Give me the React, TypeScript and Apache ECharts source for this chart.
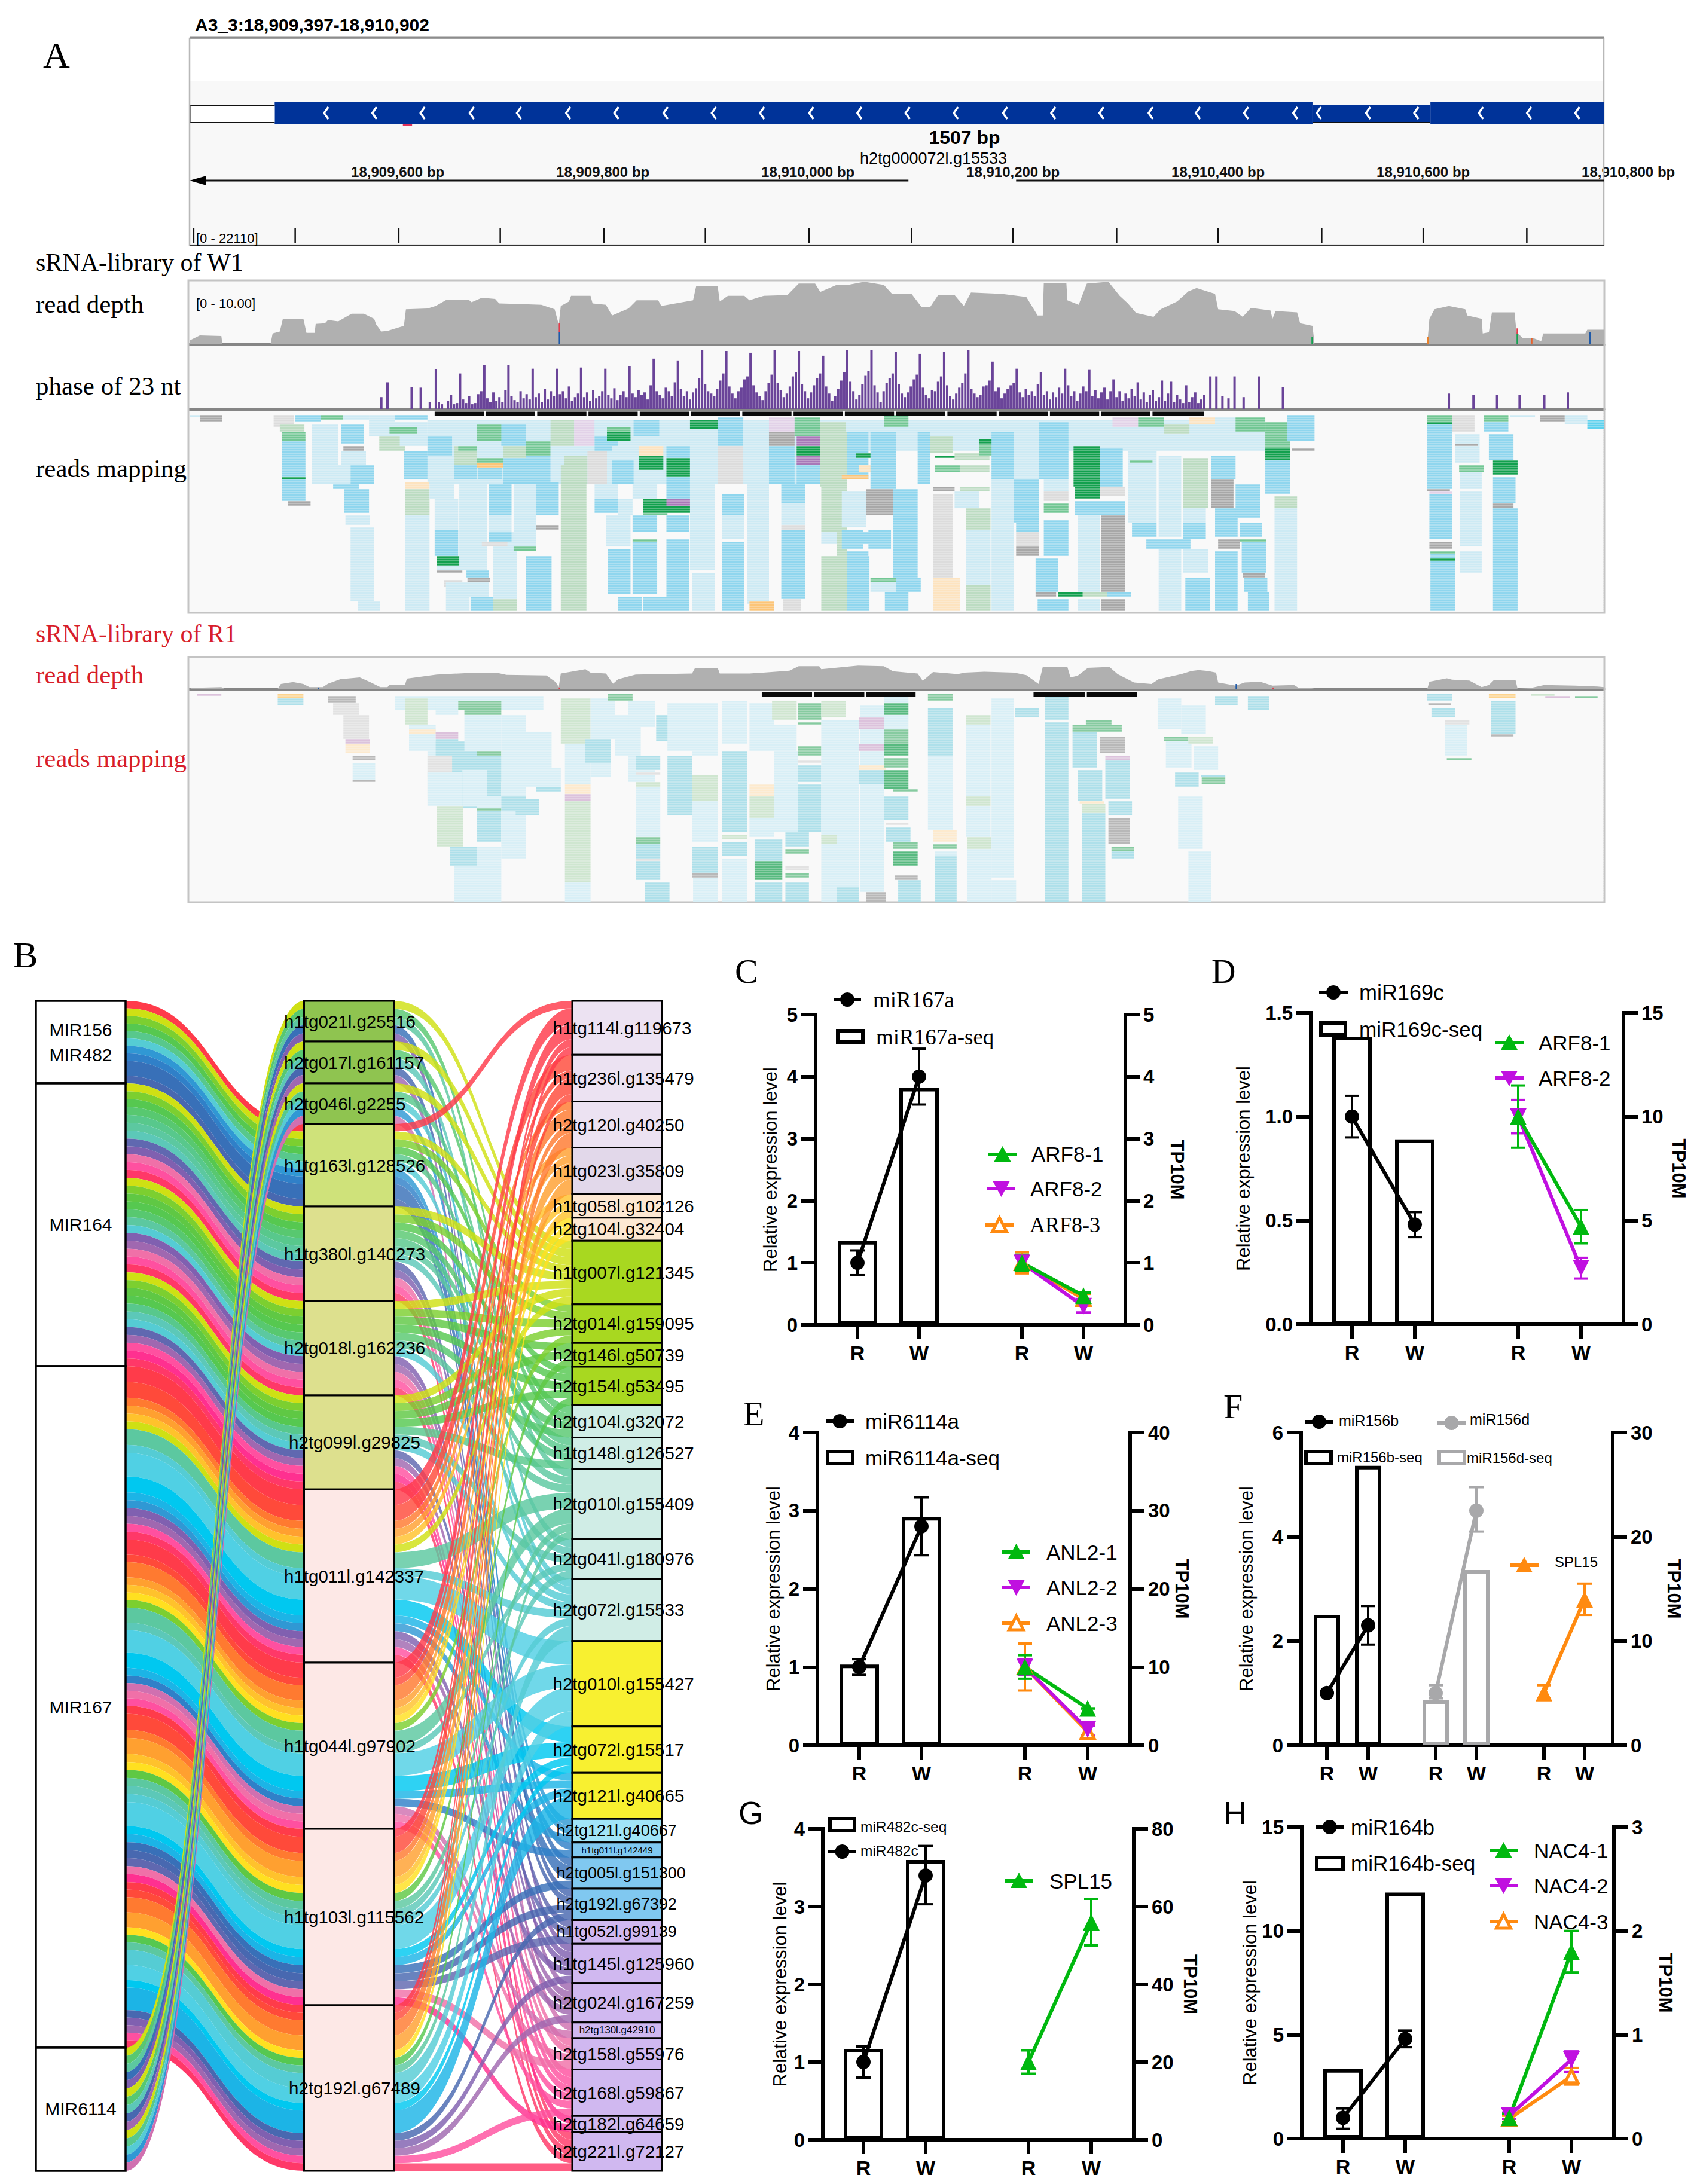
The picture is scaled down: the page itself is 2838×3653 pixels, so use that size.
import React, { useEffect, useRef } from "react";
import * as echarts from "echarts";

const SANS = "Liberation Sans";
const SERIF = "Liberation Serif";

/* ---------- panel A data: genome track (bp offset from 18,909,397) ---------- */
const rulerValues = [203, 403, 603, 803, 1003, 1203, 1403];
const rulerLabels = ["18,909,600 bp", "18,909,800 bp", "18,910,000 bp", "18,910,200 bp", "18,910,400 bp", "18,910,600 bp", "18,910,800 bp"];
const rulerTicks = [4, 103, 204, 303, 404, 503, 604, 704, 803, 904, 1003, 1104, 1203, 1304];
const rulerSegments = [[16, 701], [806, 1379]];
const geneChevrons = [133, 180, 227, 275, 321, 369, 416, 464, 511, 558, 606, 653, 700, 747, 795, 842, 889, 937, 983, 1030, 1078, 1101, 1149, 1196, 1259, 1306, 1353];

const depthW1 = [[0,.6],[10,1.4],[31,1.3],[32,.1],[79,.1],[81,1.7],[88,2],[91,4],[111,4],[114,1.8],[122,1.8],[123,3.2],[132,3.3],[135,3.8],[145,3.6],[158,4.8],[170,4.8],[180,4],[182,3.1],[187,2],[193,2.1],[209,2.9],[211,5.5],[232,5.6],[240,6],[251,7],[272,7],[275,6.6],[285,7.3],[298,7.1],[302,6.4],[322,6.3],[343,6.2],[356,5.5],[360,3.1],[362,6],[370,6.7],[372,7.6],[391,7.6],[393,6.4],[406,6.2],[412,4.5],[428,5.6],[436,6.9],[457,6.9],[460,6],[491,6.9],[494,9.1],[515,9.1],[517,6.7],[525,7.6],[541,7.6],[546,6.9],[560,7.6],[583,7.7],[594,9.5],[610,9.5],[615,8.2],[631,9.3],[642,9.3],[658,9.8],[677,9.3],[685,7.9],[704,7.9],[714,5.8],[722,5.8],[730,7.7],[746,7.7],[755,6],[762,8.1],[792,7.9],[816,7.4],[827,4.5],[832,4.5],[833,9.6],[855,9.6],[856,6.9],[867,6.2],[875,9.5],[896,9.8],[907,7.6],[915,6.4],[923,4.9],[940,4.3],[947,5.5],[963,6.7],[974,8.3],[982,8.8],[1000,7.9],[1003,5.5],[1019,5.2],[1027,4.3],[1035,5.7],[1054,5.3],[1056,4],[1059,5.2],[1080,5],[1083,3.3],[1095,2.9],[1097,.1],[1207,.1],[1209,4],[1214,5.5],[1228,6],[1244,5.5],[1246,4.5],[1260,4],[1261,1.7],[1267,1.9],[1270,5],[1292,5],[1294,1.9],[1300,1],[1310,1],[1318,.5],[1320,1.7],[1361,1.7],[1363,2.3],[1379,2.3]];
const depthR1 = [[1,.3],[31,.5],[34,0],[86,0],[89,1.5],[101,2.1],[111,1.5],[117,.5],[130,.5],[135,1.6],[147,3],[166,3.6],[176,2.1],[186,.5],[193,.5],[195,1.2],[210,1.2],[212,3.2],[241,4.5],[280,5.1],[299,5.1],[309,4.4],[348,4.2],[357,2.1],[360,.5],[362,4.8],[372,5.4],[386,6.2],[391,5.1],[406,4.8],[413,1.6],[418,3],[435,4.5],[490,4.8],[493,6.6],[515,6.6],[517,4.8],[546,4.8],[585,5.7],[594,7.1],[614,7.1],[616,6.2],[652,7.3],[677,7.1],[686,5.5],[710,4.8],[715,2.5],[725,5.3],[749,4.6],[756,5.1],[775,5.4],[804,5.1],[816,4.3],[828,1.5],[832,6.9],[856,6.9],[859,3.6],[866,4.1],[876,6.6],[897,6.9],[905,4.6],[921,2],[938,1.5],[945,3],[967,4.6],[977,5.6],[984,5.9],[993,5.6],[1001,5.1],[1003,2],[1020,1],[1029,2],[1044,2.2],[1056,1],[1077,1.2],[1082,.2],[1094,.2],[1097,0],[1207,0],[1209,2.2],[1226,3.3],[1231,2.9],[1248,2.6],[1260,.5],[1267,1.2],[1272,2.8],[1293,2.8],[1295,0],[1307,.2],[1321,1.2],[1351,1],[1373,.7],[1379,.5]];
const depthMarksW1 = [[360,1.9,3.3,"#e23b4a"],[360,0,1.9,"#1f5aa8"],[1094,0,1.2,"#14a050"],[1207,0,1.2,"#e8802a"],[1294,0,1.6,"#14a050"],[1294,1.6,2.5,"#e23b4a"],[1308,.1,1,"#e8602a"],[1365,0,1.9,"#1f5aa8"]];
const depthMarksR1 = [[125,0,.4,"#1f5aa8"],[360,0,.4,"#e23b4a"],[1020,0,1.5,"#1f5aa8"],[1056,0,.4,"#e23b4a"]];

const phaseStartBp = 193;
const phaseCycleBp = 23.6;
const phaseCycles = [
  [45,0,0,0,0,0,0,0],[37,0,0,36,0,0,12,0],[67,12,8,0,14,24,8,10],[60,16,10,22,8,10,25,30],[74,18,12,28,14,20,12,32],
  [74,22,15,12,30,18,25,16],[68,20,26,12,34,16,30,22],[68,25,30,18,38,14,20,26],[70,20,28,14,32,18,22,30],[68,24,18,35,15,24,30,20],
  [72,26,20,32,24,28,16,40],[85,30,24,18,36,30,22,45],[82,34,22,30,16,28,35,52],[100,42,30,26,22,34,48,60],[98,38,26,18,30,36,50,55],
  [95,40,28,22,15,30,44,58],[100,44,32,20,26,38,55,62],[98,42,30,18,28,40,52,60],[90,38,26,14,22,34,48,62],[100,46,30,16,24,42,56,64],
  [100,40,28,12,30,44,52,60],[97,42,26,20,28,38,50,58],[93,36,24,18,32,30,46,55],[97,40,22,16,26,36,44,60],[100,34,26,20,24,38,40,48],
  [80,30,36,18,26,34,40,44],[68,28,20,34,24,30,22,42],[62,24,30,16,28,20,36,26],[68,40,22,30,14,26,38,30],[66,22,32,18,28,36,16,30],
  [50,20,30,14,26,18,34,22],[45,16,28,12,24,32,14,20],[48,14,26,46,12,24,16,10],[40,12,20,28,10,16,24,0],[55,0,55,0,22,0,18,0],
  [55,0,0,20,0,0,0,0],[55,0,0,0,0,0,0,0],[37,0,0,0,0,0,0,0],
];
const phaseExtra = [[187,20],[1228,26],[1252,24],[1275,24],[1297,24],[1321,24],[1344,28]];

const phasedW1 = [[239,287],[289,337],[339,387],[389,437],[439,487],[489,537],[539,587],[589,637],[639,687],[689,737],[739,787],[789,837],[839,887],[889,937],[939,989]];
const phasedR1 = [[558,607],[609,658],[660,708],[823,873],[875,924]];

const readsW1 = [
  [180,232,4,10,"L"],[232,1049,3,12,"L"],[232,640,12,30,"L"],[640,1049,8,16,"L"],
  [0,24,1,2,"L"],[10,32,1,4,"K"],[82,102,1,6,"Y"],[103,128,1,4,"M"],[128,150,1,3,"E"],[150,175,1,3,"L"],[175,200,1,4,"L"],[200,232,1,3,"M"],
  [88,112,5,8,"G"],[90,113,8,12,"E"],[90,113,12,37,"M"],[90,113,27,28,"D"],[96,118,37,39,"K"],
  [119,145,5,30,"L"],[148,170,5,13,"M"],[150,170,14,16,"K"],[148,172,16,22,"L"],[135,157,22,30,"L"],[157,180,22,30,"M"],[140,165,30,32,"M"],[151,175,32,42,"M"],[152,176,43,47,"L"],[157,180,48,79,"L"],[164,186,79,83,"L"],
  [175,200,4,10,"L"],[185,210,10,16,"G"],[195,222,6,9,"E"],[205,232,9,14,"L"],[209,232,16,28,"M"],
  [232,258,3,10,"L"],[232,256,10,18,"M"],[258,280,6,14,"L"],[258,280,14,22,"G"],[258,280,22,28,"M"],[262,285,14,16,"E"],[280,306,5,12,"E"],[280,306,12,19,"L"],[280,306,19,21,"E"],[280,306,21,23,"A"],[281,305,23,28,"M"],[304,328,5,14,"M"],[306,328,14,19,"G"],[306,328,19,30,"M"],[328,352,3,12,"L"],[328,352,12,18,"E"],[328,352,18,30,"M"],[352,375,3,14,"G"],[352,375,14,29,"L"],[365,388,14,18,"L"],[365,388,18,30,"G"],[388,407,16,30,"Y"],[375,395,3,14,"P"],[395,418,3,10,"L"],[395,418,10,16,"M"],[407,430,6,8,"E"],[407,430,8,12,"D"],[412,433,14,20,"L"],[412,433,20,30,"M"],[433,458,3,10,"M"],[438,462,14,18,"O"],[438,462,18,24,"D"],[438,462,24,30,"L"],[465,488,4,14,"L"],[465,488,14,19,"M"],[465,488,19,27,"D"],[465,488,27,30,"M"],[488,515,3,7,"D"],[488,515,7,30,"L"],[515,540,2,14,"M"],[515,540,14,30,"Y"],[540,565,3,22,"L"],[565,590,2,8,"P"],[565,590,8,14,"K"],[565,590,14,30,"M"],[590,615,2,10,"E"],[592,615,10,14,"V"],[592,615,14,18,"D"],[592,615,18,22,"V"],[592,615,22,30,"M"],[615,640,4,31,"G"],
  [210,234,29,32,"O"],[210,234,32,43,"G"],[210,234,43,83,"L"],[234,258,29,36,"L"],[239,262,36,49,"L"],[239,262,49,60,"M"],[241,266,60,64,"D"],[241,266,64,66,"L"],[241,266,66,67,"K"],[248,266,70,73,"Y"],
  [250,273,71,83,"L"],[274,297,77,83,"M"],[270,292,71,77,"L"],[296,319,50,56,"L"],[418,432,36,43,"L"],
  [263,290,30,66,"L"],[270,292,66,69,"M"],[271,293,69,71,"K"],[292,314,30,43,"M"],[292,314,43,50,"L"],[292,314,50,54,"M"],[285,310,54,56,"Y"],[296,319,56,78,"L"],[296,319,78,83,"G"],[316,338,30,43,"L"],[316,338,43,56,"L"],[328,353,60,83,"M"],[316,338,56,58,"E"],[338,360,29,43,"M"],[338,360,47,49,"K"],
  [362,387,22,83,"G"],[395,418,30,36,"L"],[395,418,36,42,"M"],[406,430,43,56,"L"],[408,430,57,76,"M"],[418,441,77,83,"M"],[432,456,30,36,"L"],[432,456,43,50,"M"],[432,456,53,54,"E"],[432,456,54,76,"M"],[442,466,36,42,"D"],[442,466,42,43,"E"],[465,490,30,36,"M"],[465,490,36,39,"V"],[465,490,39,42,"D"],[442,466,77,83,"M"],[465,487,53,83,"M"],
  [488,512,50,66,"L"],[490,512,67,83,"L"],[519,541,54,83,"M"],[519,541,34,43,"M"],[519,541,43,53,"L"],[488,512,30,50,"L"],[465,487,43,50,"M"],[544,565,30,80,"L"],[546,570,79,83,"A"],
  [577,600,30,38,"M"],[577,600,38,47,"L"],[577,600,47,49,"Y"],[577,600,49,78,"M"],[579,596,78,83,"Y"],[616,640,31,50,"G"],[616,640,50,55,"L"],[616,640,60,83,"G"],[640,663,50,55,"M"],[640,663,60,83,"M"],[660,686,32,43,"K"],
  [631,641,8,83,"G"],[641,662,8,28,"M"],[650,674,17,19,"D"],[653,679,22,25,"O"],[636,662,26,28,"A"],[636,660,33,48,"L"],[636,657,49,57,"M"],[641,662,58,83,"M"],[662,684,49,57,"M"],[664,689,8,32,"M"],[677,701,1,6,"E"],[686,710,32,69,"M"],[664,689,69,71,"E"],[664,689,71,75,"L"],[689,713,69,75,"M"],[678,701,75,83,"M"],
  [725,744,34,69,"Y"],[725,751,69,83,"O"],[725,746,31,33,"K"],[720,744,10,17,"G"],[727,751,18,19,"D"],[727,751,22,25,"E"],[710,722,8,30,"M"],[746,780,17,20,"G"],[751,780,22,25,"G"],[751,780,31,33,"G"],[757,781,40,49,"G"],[757,781,72,83,"G"],[757,781,49,72,"L"],[746,770,33,40,"L"],[770,794,11,13,"D"],[770,794,13,18,"E"],[782,804,28,83,"L"],[804,828,28,46,"M"],[806,828,46,50,"M"],[806,828,50,56,"Y"],[806,828,56,60,"K"],[825,847,61,75,"M"],[825,845,75,77,"K"],[847,871,75,77,"D"],[871,895,75,77,"G"],[895,918,75,77,"M"],[827,857,78,83,"M"],[833,857,38,42,"E"],[833,857,45,60,"M"],[833,857,33,37,"Y"],[833,857,28,33,"L"],[782,804,8,28,"M"],[804,828,4,28,"L"],[828,857,4,28,"M"],
  [862,888,14,31,"D"],[863,888,31,36,"D"],[863,888,37,43,"M"],[888,910,15,31,"M"],[888,912,31,35,"Y"],[888,912,37,43,"M"],[889,912,43,75,"K"],[889,912,78,83,"K"],[866,888,43,75,"L"],[866,888,78,83,"L"],
  [915,943,13,46,"L"],[919,943,46,52,"M"],[917,939,20,21,"E"],[945,967,18,52,"L"],[933,976,53,57,"M"],[945,967,57,83,"L"],[969,993,19,40,"G"],[969,991,40,46,"L"],[969,991,46,53,"M"],[969,993,57,67,"L"],[971,995,69,83,"M"],[996,1018,28,40,"K"],[996,1020,18,28,"M"],[1000,1022,40,52,"M"],[1000,1022,58,83,"M"],[1020,1044,30,44,"M"],[1024,1046,46,52,"M"],[1024,1050,53,54,"E"],[1003,1024,53,57,"K"],[1026,1050,54,67,"M"],[1027,1049,67,69,"K"],[1028,1051,69,75,"M"],[1032,1053,75,83,"M"],
  [900,925,2,6,"P"],[925,950,2,6,"E"],[950,975,5,9,"G"],[975,1000,2,5,"O"],[1000,1025,2,10,"L"],[1020,1049,2,8,"E"],[1049,1073,4,15,"E"],[1049,1073,15,20,"D"],[1049,1073,20,34,"M"],[1058,1080,35,40,"G"],[1058,1080,40,83,"L"],[1070,1097,1,12,"M"],[1075,1097,15,16,"K"],
  [1207,1231,1,4,"E"],[1207,1231,4,5,"D"],[1207,1231,5,32,"M"],[1207,1229,32,33,"K"],[1209,1231,33,34,"P"],[1209,1231,34,53,"M"],[1209,1231,54,57,"K"],[1210,1234,58,83,"M"],[1210,1234,58,59,"E"],[1210,1234,61,62,"D"],[1231,1253,1,8,"Y"],[1234,1258,9,21,"L"],[1234,1256,13,14,"K"],[1238,1262,22,25,"E"],[1239,1260,25,32,"L"],[1239,1260,33,56,"L"],[1239,1260,58,67,"L"],[1262,1286,1,4,"E"],[1262,1286,4,8,"M"],[1267,1291,9,20,"M"],[1271,1295,20,26,"D"],[1271,1293,27,38,"M"],[1271,1291,38,40,"K"],[1271,1295,40,83,"M"],[1288,1312,1,2,"L"],[1317,1341,1,4,"K"],[1341,1363,1,5,"L"],[1363,1379,3,7,"B"],
];
const readsR1 = [
  [7,31,1,2,"p"],[86,111,1,3,"a"],[86,111,3,6,"m"],[135,162,2,5,"k"],[140,165,5,10,"y"],[150,175,10,20,"y"],[152,176,20,22,"p"],[152,176,22,26,"o"],[159,181,27,29,"k"],[159,181,30,37,"l"],[159,181,37,38,"k"],
  [200,345,2,8,"l"],[232,256,21,44,"l"],[256,280,21,49,"m"],[304,328,27,38,"l"],[328,353,17,32,"l"],[415,440,10,27,"l"],[428,454,27,38,"l"],[455,488,10,21,"m"],[570,593,25,59,"l"],[593,616,39,59,"m"],[616,640,40,62,"l"],
  [210,232,3,14,"g"],[214,240,14,25,"l"],[214,240,16,18,"o"],[240,262,3,10,"l"],[240,262,17,20,"p"],[240,262,20,27,"m"],[232,256,27,36,"y"],[232,266,34,48,"l"],[241,267,48,65,"g"],[254,280,65,73,"m"],[258,284,73,88,"l"],
  [262,304,4,8,"e"],[268,304,8,10,"e"],[268,304,10,25,"l"],[280,304,25,27,"e"],[280,304,27,44,"m"],[266,290,33,48,"l"],[280,304,44,50,"l"],[280,304,49,50,"e"],[280,304,50,63,"m"],[280,304,65,88,"l"],[304,328,10,27,"l"],[304,328,38,44,"l"],[304,328,44,50,"m"],[304,328,50,70,"l"],[318,341,45,52,"m"],[328,362,32,40,"l"],[338,362,40,42,"m"],
  [362,391,3,12,"g"],[362,391,12,22,"g"],[366,391,22,39,"l"],[366,391,39,43,"o"],[366,391,43,46,"p"],[366,391,46,80,"g"],[366,391,80,88,"l"],[386,411,20,30,"m"],[391,415,3,20,"l"],[391,411,30,36,"l"],
  [428,454,4,15,"l"],[408,432,1,4,"e"],[435,459,27,33,"m"],[435,459,34,35,"y"],[435,459,38,40,"g"],[435,459,40,61,"l"],[435,459,61,64,"e"],[435,459,64,70,"m"],[435,459,70,71,"y"],[435,459,71,79,"m"],[444,468,80,88,"m"],[466,490,5,25,"l"],[466,490,27,52,"m"],[490,515,5,27,"l"],[490,515,35,46,"g"],[490,515,46,63,"l"],[490,515,65,76,"m"],[490,515,76,78,"k"],[491,515,78,88,"l"],
  [519,544,4,22,"l"],[519,544,25,59,"m"],[519,544,60,62,"g"],[519,544,63,69,"m"],[519,544,70,88,"l"],[546,570,5,25,"l"],[546,570,39,44,"o"],[546,570,44,53,"g"],[546,570,53,61,"l"],[551,578,62,71,"m"],[551,578,71,79,"D"],[551,578,80,88,"m"],[568,592,4,12,"g"],[570,592,14,25,"l"],[581,604,59,65,"m"],[581,604,66,68,"e"],[581,604,73,75,"y"],[581,604,76,78,"e"],[581,604,80,88,"m"],[593,616,5,12,"e"],[593,616,13,14,"e"],[593,616,23,27,"e"],[593,616,29,30,"y"],[593,616,31,38,"m"],
  [616,640,4,11,"g"],[616,640,12,40,"l"],[616,640,60,64,"g"],[616,640,64,88,"l"],[631,653,12,30,"l"],[631,653,82,88,"m"],[631,653,30,82,"l"],[654,677,6,84,"l"],[653,677,11,16,"p"],[653,677,22,25,"p"],[653,679,31,33,"o"],[653,677,33,39,"m"],[660,679,84,88,"k"],
  [677,701,1,5,"l"],[677,701,5,10,"D"],[677,701,10,16,"l"],[677,701,16,22,"e"],[677,701,22,27,"D"],[677,701,28,32,"e"],[677,701,33,41,"D"],[686,710,41,42,"e"],[677,701,44,54,"m"],[679,701,55,56,"y"],[679,703,57,63,"m"],[686,710,63,66,"e"],[686,710,67,73,"D"],[688,710,77,79,"k"],[691,713,79,88,"m"],
  [720,744,1,4,"e"],[720,744,7,27,"m"],[720,744,27,58,"l"],[725,748,58,63,"o"],[725,748,64,66,"e"],[727,748,67,69,"l"],[727,748,69,88,"m"],[757,781,10,14,"g"],[757,781,14,44,"l"],[757,781,44,48,"g"],[757,781,48,61,"l"],[758,782,61,66,"g"],[758,782,66,88,"l"],[782,804,3,78,"l"],[782,806,79,88,"l"],[805,828,7,11,"m"],
  [834,857,2,12,"m"],[834,857,13,88,"m"],[861,885,14,17,"e"],[861,885,17,32,"m"],[866,890,33,46,"m"],[868,892,46,47,"o"],[870,893,47,51,"g"],[870,893,51,88,"m"],[888,912,19,26,"k"],[874,899,12,14,"e"],[885,909,14,17,"e"],[893,917,27,29,"p"],[893,917,29,45,"m"],[896,919,46,52,"m"],[896,917,53,64,"k"],[899,921,65,67,"e"],[899,921,67,70,"m"],
  [944,967,3,16,"l"],[950,974,19,21,"e"],[952,977,21,32,"l"],[961,984,34,40,"m"],[964,988,44,66,"l"],[974,996,67,88,"l"],[967,991,6,18,"l"],[974,998,19,22,"g"],[979,1003,23,33,"l"],[986,1010,35,36,"m"],[987,1010,36,39,"e"],[1000,1022,2,6,"m"],[1032,1053,2,8,"m"],
  [1207,1231,1,4,"m"],[1208,1230,5,6,"k"],[1211,1234,7,11,"m"],[1224,1248,12,14,"y"],[1224,1246,14,27,"l"],[1226,1250,28,29,"e"],[1267,1293,1,3,"a"],[1269,1293,4,18,"m"],[1269,1291,18,19,"k"],[1308,1331,1,2,"g"],[1322,1346,2,3,"p"],[1351,1373,2,3,"e"],
];
const readColorsW1 = { L:"#cdeaf4", M:"#8fd6ee", G:"#bcdcc2", D:"#12a04e", E:"#72c794", Y:"#dcdcdc", K:"#a8a8a8", O:"#fde3bf", A:"#fcc578", P:"#e2d2e8", V:"#a878b8", B:"#5fd2ee" };
const readColorsR1 = { l:"#d8eff6", m:"#aee0ea", g:"#cfe6d0", e:"#86cba0", D:"#58ba80", y:"#e2e2e2", k:"#b8b8b8", o:"#fdeace", a:"#fdd48e", p:"#dcc2dc" };

/* ---------- panel B data ---------- */
const familyNames = ["MIR156\nMIR482", "MIR164", "MIR167", "MIR6114"];
const midNames = ["h1tg021l.g25516", "h2tg017l.g161157", "h2tg046l.g2255", "h1tg163l.g128526", "h1tg380l.g140273", "h2tg018l.g162236", "h2tg099l.g29825", "h1tg011l.g142337", "h1tg044l.g97902", "h1tg103l.g115562", "h2tg192l.g67489"];
const midColors = ["#8fc450", "#8fc450", "#8fc450", "#cfe27a", "#dde08e", "#dde08e", "#dde08e", "#fde8e6", "#fde8e6", "#fde8e6", "#fde8e6"];
const midFamily = [3, 3, 3, 0, 1, 1, 1, 2, 2, 2, 2];
const midScale = [1.042, 1.072, 1.042, 0.961, 1.008, 1.008, 1.003, 1.009, 0.968, 1.027, 0.964];
const targetNames = ["h1tg114l.g119673", "h1tg236l.g135479", "h2tg120l.g40250", "h1tg023l.g35809", "h1tg058l.g102126", "h2tg104l.g32404", "h1tg007l.g121345", "h2tg014l.g159095", "h2tg146l.g50739", "h2tg154l.g53495", "h2tg104l.g32072", "h1tg148l.g126527", "h2tg010l.g155409", "h2tg041l.g180976", "h2tg072l.g15533", "h2tg010l.g155427", "h2tg072l.g15517", "h2tg121l.g40665", "h2tg121l.g40667", "h1tg011l.g142449", "h2tg005l.g151300", "h2tg192l.g67392", "h1tg052l.g99139", "h1tg145l.g125960", "h2tg024l.g167259", "h2tg130l.g42910", "h2tg158l.g55976", "h2tg168l.g59867", "h2tg182l.g64659", "h2tg221l.g72127"];
const targetFills = ["#ece2f2","#ece2f2","#ece2f2","#e2d8ea","#fde8d2","#fde8d2","#a8d820","#a8d820","#a8d820","#a8d820","#d0ede6","#d0ede6","#d0ede6","#d0ede6","#d0ede6","#f8f030","#f8f030","#f8f030","#a0e4f8","#80c8f0","#80c8f0","#80c8f0","#d0b8f0","#d0b8f0","#d0b8f0","#d0b8f0","#d0b8f0","#d0b8f0","#d0b8f0","#d0b8f0"];
const targetBands = ["#ff3b4a","#ff4a3a","#ff7a30","#ffa030","#ffc22c","#ffe020","#cfe014","#7ccf30","#5fc844","#56c850","#58c870","#58c88c","#5cc8a0","#5cc8b8","#55ccd4","#50d0e4","#00c8f0","#1cb4e6","#3098d4","#3080c8","#3870b8","#4868b0","#6068b0","#8060b0","#a068b0","#d070b0","#f070a8","#ff50a0","#ff3090","#ff3868"];
const midLinks = [
  [[6,1],[10,1],[12,1],[20,1],[23,1]],
  [[6,1],[10,1],[13,1],[21,1],[24,1]],
  [[6,1],[11,1],[14,1],[18,1],[25,1]],
  [[0,1],[6,1],[7,1],[9,1],[11,1],[14,1],[18,1],[19,1],[20,2],[21,1]],
  [[6,1],[7,1],[9,1],[10,1],[11,1],[12,1],[13,1],[22,1],[23,1],[26,1],[27,1],[29,1]],
  [[6,1],[7,1],[8,1],[9,1],[10,1],[12,1],[14,1],[23,1],[24,1],[26,1],[27,1],[29,1]],
  [[6,1],[7,1],[8,1],[9,1],[11,1],[13,1],[14,1],[22,1],[24,1],[27,1],[28,1],[29,1]],
  [[0,2],[1,2],[2,1],[3,1],[4,1],[6,1],[12,2],[14,1],[15,3],[16,2],[17,1],[18,1],[23,1],[24,1],[27,1],[29,1]],
  [[0,2],[1,1],[2,2],[3,1],[4,1],[5,1],[7,1],[12,2],[13,1],[15,3],[16,2],[17,1],[19,1],[25,1],[26,1],[27,1]],
  [[0,1],[1,2],[2,1],[3,2],[4,1],[5,1],[8,1],[12,1],[13,1],[14,1],[15,3],[16,1],[17,1],[20,1],[21,1],[22,1],[26,1],[28,1]],
  [[0,1],[1,1],[2,2],[3,2],[5,1],[9,1],[12,1],[14,2],[15,2],[16,1],[17,3],[21,1],[23,1],[24,1],[27,1],[29,1]],
];

/* ---------- panels C-H data: [mean, low, high] at R and W ---------- */
const cBars = [1.35, 3.82];
const cMir = [[1, .8, 1.2], [4, 3.55, 4.45]];
const cArf1 = [[1, .87, 1.13], [.47, .4, .52]];
const cArf2 = [[1, .9, 1.1], [.3, .2, .38]];
const cArf3 = [[1, .83, 1.17], [.42, .33, .5]];
const dBars = [13.85, 8.9];
const dMir = [[1, .9, 1.1], [.48, .42, .54]];
const dArf1 = [[1, .85, 1.15], [.47, .39, .55]];
const dArf2 = [[1, .92, 1.08], [.27, .22, .32]];
const eBars = [10.3, 29.2];
const eMir = [[1, .9, 1.1], [2.8, 2.43, 3.17]];
const eAnl1 = [[1, .85, 1.15], [.47, .47, .47]];
const eAnl2 = [[1, .9, 1.1], [.2, .12, .25]];
const eAnl3 = [[1, .7, 1.3], [.17, .12, .27]];
const fBarsB = [12.5, 26.8];
const fBarsD = [4.3, 16.8];
const fMirB = [[1, 1, 1], [2.3, 1.93, 2.67]];
const fMirD = [[1, .9, 1.15], [4.5, 4.1, 4.95]];
const fSpl = [[1, .9, 1.15], [2.8, 2.5, 3.1]];
const gBars = [23.4, 72];
const gMir = [[1, .8, 1.2], [3.4, 3.03, 3.78]];
const gSpl = [[1, .85, 1.15], [2.8, 2.5, 3.1]];
const hBars = [.67, 2.37];
const hMir = [[1, .47, 1.45], [4.8, 4.4, 5.2]];
const hNac1 = [[1, .8, 1.2], [9, 8, 10]];
const hNac2 = [[1.1, .95, 1.25], [3.8, 3.2, 4.2]];
const hNac3 = [[.95, .8, 1.1], [3, 2.6, 3.4]];

const BLACK = "#000000", GREEN = "#00b80f", MAGENTA = "#c010e0", ORANGE = "#ff8a10", GREY = "#a8a8aa";

const PANELS = [
  { left: 1364, top: 1697, width: 518, height: 519, slots: [70,173,345,448], lMax: 5, lInt: 1, rMax: 5, rInt: 1, lDec: 0, tGap: 60, rGap: 71, barW: 66,
    bars: [[0,1,cBars,BLACK]],
    lines: [[0,1,cMir,BLACK,"circle"],[2,3,cArf3,ORANGE,"open"],[2,3,cArf2,MAGENTA,"down"],[2,3,cArf1,GREEN,"up"]] },
  { left: 2192, top: 1694, width: 523, height: 521, slots: [69,174,347,452], lMax: 1.5, lInt: .5, rMax: 15, rInt: 5, lDec: 1, tGap: 97, rGap: 77, barW: 66,
    bars: [[0,1,dBars,BLACK]],
    lines: [[0,1,dMir,BLACK,"circle"],[2,3,dArf2,MAGENTA,"down"],[2,3,dArf1,GREEN,"up"]] },
  { left: 1367, top: 2396, width: 523, height: 523, slots: [70,174,347,452], lMax: 4, lInt: 1, rMax: 40, rInt: 10, lDec: 0, tGap: 58, rGap: 66, barW: 66,
    bars: [[0,1,eBars,BLACK]],
    lines: [[0,1,eMir,BLACK,"circle"],[2,3,eAnl3,ORANGE,"open"],[2,3,eAnl2,MAGENTA,"down"],[2,3,eAnl1,GREEN,"up"]] },
  { left: 2176, top: 2396, width: 521, height: 523, slots: [43,112,225,293,406,474], lMax: 6, lInt: 2, rMax: 30, rInt: 10, lDec: 0, tGap: 76, rGap: 87, barW: 44,
    bars: [[0,1,fBarsB,BLACK],[2,3,fBarsD,GREY]],
    lines: [[0,1,fMirB,BLACK,"circle"],[2,3,fMirD,GREY,"circle"],[4,5,fSpl,ORANGE,"up"]] },
  { left: 1376, top: 3059, width: 520, height: 520, slots: [68,172,344,449], lMax: 4, lInt: 1, rMax: 80, rInt: 20, lDec: 0, tGap: 56, rGap: 79, barW: 66,
    bars: [[0,1,gBars,BLACK]],
    lines: [[0,1,gMir,BLACK,"circle"],[2,3,gSpl,GREEN,"up"]] },
  { left: 2177, top: 3056, width: 522, height: 521, slots: [69,173,347,451], lMax: 15, lInt: 5, rMax: 3, rInt: 1, lDec: 0, tGap: 64, rGap: 71, barW: 66,
    bars: [[0,1,hBars,BLACK]],
    lines: [[0,1,hMir,BLACK,"circle"],[2,3,hNac3,ORANGE,"open"],[2,3,hNac2,MAGENTA,"down"],[2,3,hNac1,GREEN,"up"]] },
];

/* ---------- graphic helpers ---------- */
function T(text, x, y, size, extra: any = {}) {
  const align = extra.align || "left";
  return {
    type: "text", x, y, rotation: extra.rotation || 0, z: 20, silent: true,
    style: {
      text, fill: extra.fill || "#000", fontSize: size, fontFamily: extra.family || SANS, fontWeight: extra.weight || "normal",
      align, textAlign: align, verticalAlign: "middle", textVerticalAlign: "middle",
    },
  };
}
function Rect(x, y, w, h, fill, extra: any = {}) {
  return { type: "rect", shape: { x, y, width: w, height: h }, style: { fill, ...(extra.style || {}) }, z: extra.z ?? 0, silent: true };
}
function legendMark(x1, x2, y, kind, color) {
  const cx = (x1 + x2) / 2;
  const els: any[] = [{ type: "line", z: 20, silent: true, shape: { x1, y1: y, x2, y2: y }, style: { stroke: color, lineWidth: 6 } }];
  if (kind === "circle") els.push({ type: "circle", z: 21, silent: true, shape: { cx, cy: y, r: 12 }, style: { fill: color } });
  if (kind === "up") els.push({ type: "polygon", z: 21, silent: true, shape: { points: [[cx - 14, y + 12], [cx + 14, y + 12], [cx, y - 14]] }, style: { fill: color } });
  if (kind === "down") els.push({ type: "polygon", z: 21, silent: true, shape: { points: [[cx - 14, y - 12], [cx + 14, y - 12], [cx, y + 14]] }, style: { fill: color } });
  if (kind === "open") els.push({ type: "polygon", z: 21, silent: true, shape: { points: [[cx - 12, y + 11], [cx + 12, y + 11], [cx, y - 12]] }, style: { fill: "#fff", stroke: color, lineWidth: 5 } });
  return els;
}
function legendBox(x, y, w, h, color) {
  return { type: "rect", z: 20, silent: true, shape: { x, y, width: w, height: h }, style: { fill: "none", stroke: color, lineWidth: 6 } };
}

function frame(x, y, w, h) {
  return [
    Rect(x, y, w, h, "#f9f9f9"),
    { type: "rect", z: 1, silent: true, shape: { x, y, width: w, height: h }, style: { fill: "none", stroke: "#c4c4c4", lineWidth: 3 } },
  ];
}

function buildGraphic() {
  const g: any[] = [];
  // panel letters
  g.push(T("A", 72, 92, 62, { family: SERIF }), T("B", 22, 1597, 62, { family: SERIF }), T("C", 1229, 1624, 58, { family: SERIF }), T("D", 2026, 1625, 56, { family: SERIF }), T("E", 1243, 2364, 58, { family: SERIF }), T("F", 2046, 2352, 58, { family: SERIF }), T("G", 1235, 3032, 54), T("H", 2046, 3032, 54));
  // panel A furniture
  g.push(T("A3_3:18,909,397-18,910,902", 326, 41, 30, { weight: "bold" }));
  g.push(Rect(317, 64, 2365, 346, "#f8f8f8"), Rect(317, 64, 2365, 71, "#ffffff"));
  g.push({ type: "rect", z: 1, silent: true, shape: { x: 317, y: 64, width: 2365, height: 346 }, style: { fill: "none", stroke: "#b8b8b8", lineWidth: 2.5 } });
  g.push({ type: "line", z: 1, silent: true, shape: { x1: 317, y1: 63, x2: 2682, y2: 63 }, style: { stroke: "#8c8c8c", lineWidth: 3 } });
  g.push({ type: "line", z: 1, silent: true, shape: { x1: 317, y1: 411, x2: 2682, y2: 411 }, style: { stroke: "#333", lineWidth: 2 } });
  g.push(T("1507 bp", 1613, 230, 32, { weight: "bold", align: "center" }));
  g.push(T("h2tg000072l.g15533", 1561, 265, 27, { align: "center" }));
  g.push({ type: "polygon", z: 5, silent: true, shape: { points: [[317, 302], [345, 294], [345, 310]] }, style: { fill: "#000" } });
  g.push(T("[0 - 22110]", 328, 398, 22), T("[0 - 10.00]", 328, 507, 22));
  g.push(...frame(315, 469, 2368, 556), ...frame(315, 1099, 2368, 410));
  g.push(T("sRNA-library of W1", 60, 439, 42, { family: SERIF }), T("read depth", 60, 508, 43, { family: SERIF }), T("phase of 23 nt", 60, 645, 43, { family: SERIF }), T("reads mapping", 60, 783, 43, { family: SERIF }));
  const RED = "#d81e2a";
  g.push(T("sRNA-library of R1", 60, 1060, 42, { family: SERIF, fill: RED }), T("read depth", 60, 1128, 43, { family: SERIF, fill: RED }), T("reads mapping", 60, 1268, 43, { family: SERIF, fill: RED }));
  // C legend
  g.push(...legendMark(1394, 1440, 1672, "circle", BLACK), T("miR167a", 1460, 1672, 37, { family: SERIF }), legendBox(1401, 1724, 42, 19, BLACK), T("miR167a-seq", 1465, 1734, 37, { family: SERIF }));
  g.push(...legendMark(1653, 1700, 1931, "up", GREEN), T("ARF8-1", 1725, 1930, 35), ...legendMark(1651, 1698, 1988, "down", MAGENTA), T("ARF8-2", 1723, 1988, 35), ...legendMark(1648, 1695, 2049, "open", ORANGE), T("ARF8-3", 1722, 2049, 36, { family: SERIF }));
  // D legend
  g.push(...legendMark(2206, 2254, 1660, "circle", BLACK), T("miR169c", 2273, 1660, 36), legendBox(2209, 1711, 41, 20, BLACK), T("miR169c-seq", 2273, 1721, 35));
  g.push(...legendMark(2500, 2548, 1744, "up", GREEN), T("ARF8-1", 2573, 1744, 35), ...legendMark(2500, 2548, 1803, "down", MAGENTA), T("ARF8-2", 2573, 1803, 35));
  // E legend
  g.push(...legendMark(1381, 1428, 2377, "circle", BLACK), T("miR6114a", 1447, 2377, 35), legendBox(1384, 2428, 42, 20, BLACK), T("miR6114a-seq", 1447, 2438, 35));
  g.push(...legendMark(1676, 1723, 2596, "up", GREEN), T("ANL2-1", 1750, 2596, 35), ...legendMark(1676, 1723, 2655, "down", MAGENTA), T("ANL2-2", 1750, 2655, 35), ...legendMark(1676, 1723, 2715, "open", ORANGE), T("ANL2-3", 1750, 2715, 35));
  // F legend
  g.push(...legendMark(2182, 2230, 2378, "circle", BLACK), T("miR156b", 2239, 2376, 25), ...legendMark(2403, 2452, 2380, "circle", GREY), T("miR156d", 2458, 2374, 25));
  g.push(legendBox(2184, 2428, 42, 20, BLACK), T("miR156b-seq", 2236, 2437, 24), legendBox(2407, 2428, 42, 20, GREY), T("miR156d-seq", 2453, 2438, 24));
  g.push(...legendMark(2525, 2573, 2618, "up", ORANGE), T("SPL15", 2600, 2612, 24));
  // G legend
  g.push(legendBox(1388, 3042, 41, 20, BLACK), T("miR482c-seq", 1439, 3055, 24.5), ...legendMark(1385, 1432, 3097, "circle", BLACK), T("miR482c", 1439, 3095, 24.5));
  g.push(...legendMark(1680, 1728, 3146, "up", GREEN), T("SPL15", 1755, 3146, 35));
  // H legend
  g.push(...legendMark(2200, 2248, 3056, "circle", BLACK), T("miR164b", 2259, 3056, 35), legendBox(2202, 3107, 44, 20, BLACK), T("miR164b-seq", 2259, 3116, 35));
  g.push(...legendMark(2491, 2538, 3095, "up", GREEN), T("NAC4-1", 2565, 3095, 35), ...legendMark(2491, 2538, 3154, "down", MAGENTA), T("NAC4-2", 2565, 3154, 35), ...legendMark(2491, 2538, 3214, "open", ORANGE), T("NAC4-3", 2565, 3214, 35));
  return g;
}

/* ---------- option ---------- */
function buildOption() {
  const grid: any[] = [], xAxis: any[] = [], yAxis: any[] = [], series: any[] = [];
  const addGrid = (box, x, y) => {
    const gridIndex = grid.length;
    grid.push({ ...box, containLabel: false, show: false });
    xAxis.push({ gridIndex, ...x });
    yAxis.push({ gridIndex, ...y });
    return gridIndex;
  };
  const hidden = (min, max, inverse = false) => ({ type: "value", show: false, min, max, inverse, splitLine: { show: false } });
  const rectSeries = (idx, list, fillOf) => ({
    type: "custom", coordinateSystem: "cartesian2d", xAxisIndex: idx, yAxisIndex: idx, clip: false, silent: true, z: 3,
    encode: { x: [0, 1], y: [2, 3] },
    data: list.map((r) => r.slice(0, 4)),
    renderItem: (params, api) => {
      const a = api.coord([api.value(0), api.value(2)]);
      const b = api.coord([api.value(1), api.value(3)]);
      return { type: "rect", shape: { x: a[0], y: Math.min(a[1], b[1]), width: b[0] - a[0], height: Math.abs(b[1] - a[1]) }, style: { fill: fillOf(list[params.dataIndex]) } };
    },
  });
  const bpW = 1379;
  // gene/annotation grid: y in track pixels
  const gene = addGrid({ left: 317, top: 64, width: 2365, height: 346 }, hidden(0, bpW), hidden(0, 346, true));
  const exons = [[83, 1095, 106, 144, "#003399"], [1095, 1210, 111, 140, "#003399"], [1095, 1210, 140, 142, "#111"], [1210, bpW, 106, 144, "#003399"], [1, 83, 112, 114, "#111"], [1, 83, 140, 142, "#111"], [0, 1, 112, 142, "#111"], [1, 83, 114, 140, "#ffffff"], [208, 217, 144, 147, "#e0305a"]];
  series.push(rectSeries(gene, exons, (r) => r[4]));
  series.push({
    type: "custom", coordinateSystem: "cartesian2d", xAxisIndex: gene, yAxisIndex: gene, silent: true, z: 4, clip: false,
    encode: { x: 0 }, data: geneChevrons.map((v) => [v]),
    renderItem: (p, api) => {
      const c = api.coord([api.value(0), 125]);
      return { type: "polyline", shape: { points: [[c[0] + 4, c[1] - 10], [c[0] - 3, c[1]], [c[0] + 4, c[1] + 10]] }, style: { stroke: "#fff", fill: "none", lineWidth: 3.5 } };
    },
  });
  series.push(rectSeries(gene, rulerSegments.map((s) => [s[0], s[1], 236.5, 239.5]), () => "#111"));
  series.push({
    type: "custom", coordinateSystem: "cartesian2d", xAxisIndex: gene, yAxisIndex: gene, silent: true, z: 4,
    encode: { x: 0 }, data: rulerTicks.map((v) => [v]),
    renderItem: (p, api) => {
      const a = api.coord([api.value(0), 317]);
      const b = api.coord([api.value(0), 343]);
      return { type: "line", shape: { x1: a[0], y1: a[1], x2: b[0], y2: b[1] }, style: { stroke: "#111", lineWidth: 2.5 } };
    },
  });
  // ruler labels
  addGrid({ left: 317, top: 302, width: 1453 * 1.715, height: 2 },
    { type: "value", position: "top", min: 0, max: 1453, axisLine: { show: false }, axisTick: { show: false }, splitLine: { show: false },
      axisLabel: { customValues: rulerValues, margin: 3, fontSize: 24, fontWeight: "bold", color: "#111", fontFamily: SANS, formatter: (v) => rulerLabels[rulerValues.indexOf(v)] ?? "" } },
    hidden(0, 1));

  const baseAxis = { type: "value", min: 0, max: bpW, axisLine: { show: true, onZero: false, lineStyle: { color: "#868686", width: 5 } }, axisTick: { show: false }, axisLabel: { show: false }, splitLine: { show: false } };
  const depthSeries = (idx, data) => ({ type: "line", xAxisIndex: idx, yAxisIndex: idx, data, showSymbol: false, symbol: "none", silent: true, z: 3, lineStyle: { width: 0 }, areaStyle: { color: "#b0b0b0", opacity: 1 } });
  const dW = addGrid({ left: 317, top: 469, width: 2365, height: 107 }, baseAxis, hidden(0, 10));
  series.push(depthSeries(dW, depthW1), rectSeries(dW, depthMarksW1.map((m) => [m[0], m[0] + 1.5, m[1], m[2], m[3]]), (r) => r[4]));
  const pW = addGrid({ left: 317, top: 585, width: 2365, height: 99 }, baseAxis, hidden(0, 100));
  const phaseBars: any[] = [];
  phaseCycles.forEach((row, k) => row.forEach((h, j) => { if (h > 0) phaseBars.push([phaseStartBp + (k + j / 8) * phaseCycleBp, h]); }));
  phaseExtra.forEach((b) => phaseBars.push(b));
  phaseBars.sort((a, b) => a[0] - b[0]);
  series.push({ type: "bar", xAxisIndex: pW, yAxisIndex: pW, data: phaseBars, barWidth: 4, silent: true, z: 3, itemStyle: { color: "#6a4499" } });

  const stripeSeries = (idx, n) => ({
    type: "custom", coordinateSystem: "cartesian2d", xAxisIndex: idx, yAxisIndex: idx, silent: true, z: 4,
    encode: { y: 0 }, data: Array.from({ length: n }, (_, i) => [i]),
    renderItem: (p, api) => {
      const a = api.coord([0, api.value(0)]);
      const b = api.coord([bpW, api.value(0)]);
      return { type: "line", shape: { x1: a[0], y1: a[1], x2: b[0], y2: b[1] }, style: { stroke: "#f9f9f9", lineWidth: 1.1, opacity: 0.6 } };
    },
  });
  const rW = addGrid({ left: 317, top: 690, width: 2365, height: 336 }, hidden(0, bpW), hidden(0, 84, true));
  series.push(rectSeries(rW, readsW1, (r) => readColorsW1[r[4]]), stripeSeries(rW, 84));
  series.push({ ...rectSeries(rW, phasedW1.map((s) => [s[0], s[1], -0.4, 1.5]), () => "#0a0a0a"), z: 5 });
  const dR = addGrid({ left: 317, top: 1099, width: 2365, height: 53 }, baseAxis, hidden(0, 10));
  series.push(depthSeries(dR, depthR1), rectSeries(dR, depthMarksR1.map((m) => [m[0], m[0] + 1.5, m[1], m[2], m[3]]), (r) => r[4]));
  const rR = addGrid({ left: 317, top: 1156, width: 2365, height: 352 }, hidden(0, bpW), hidden(0, 88, true));
  series.push(rectSeries(rR, readsR1, (r) => readColorsR1[r[4]]), stripeSeries(rR, 88));
  series.push({ ...rectSeries(rR, phasedR1.map((s) => [s[0], s[1], 0.4, 2.4]), () => "#0a0a0a"), z: 5 });

  /* panel B */
  const labelBase = (name, size) => ({ show: true, color: "#000", fontFamily: SANS, fontSize: size, formatter: name });
  const leftLabel = (name, size, dx) => ({ ...labelBase(name, size), position: [dx, "50%"], align: "left", verticalAlign: "middle" });
  const nodes: any[] = [];
  familyNames.forEach((name) => nodes.push({ name, depth: 0, itemStyle: { color: "#fff", borderColor: "#000", borderWidth: 3.5 }, label: { ...labelBase(name, 30), position: "inside", lineHeight: 42 } }));
  midNames.forEach((name, i) => nodes.push({ name, depth: 1, itemStyle: { color: midColors[i], borderColor: "#000", borderWidth: 3 }, label: leftLabel(name, 29.5, i === 6 || i === 10 ? -24 : -32) }));
  targetNames.forEach((name, i) => {
    const tiny = name === "h1tg011l.g142449" ? 15 : name === "h2tg130l.g42910" ? 17 : 0;
    const small = i === 18 || i === 20 || i === 21 || i === 22;
    const label = tiny ? { ...labelBase(name, tiny), position: "inside" } : leftLabel(name, small ? 27 : 29.5, small ? -25 : -31);
    nodes.push({ name, depth: 2, itemStyle: { color: targetFills[i], borderColor: "#000", borderWidth: 3 }, label });
  });
  const links: any[] = [];
  const drawOrder = [3, 4, 5, 6, 7, 8, 9, 10, 0, 1, 2];
  const midOut: any[] = [];
  drawOrder.forEach((m) => {
    midLinks[m].forEach(([t, w]) => {
      links.push({ source: familyNames[midFamily[m]], target: midNames[m], value: w * midScale[m], lineStyle: { color: targetBands[t], opacity: 1, curveness: 0.5 } });
    });
  });
  midLinks.forEach((row, m) => row.forEach(([t, w]) => {
    midOut.push({ source: midNames[m], target: targetNames[t], value: w * midScale[m], lineStyle: { color: targetBands[t], opacity: 0.82, curveness: 0.5 } });
  }));
  series.push({
    type: "sankey", left: 60, top: 1674, width: 1047, height: 1957, nodeWidth: 150, nodeGap: 0, layoutIterations: 0, nodeAlign: "justify",
    silent: true, z: 3, emphasis: { disabled: true }, draggable: false, data: nodes, links: links.concat(midOut),
  });

  /* panels C-H */
  PANELS.forEach((p) => {
    const gridIndex = grid.length;
    const axisLine = { show: true, onZero: false, lineStyle: { color: "#000", width: 6, cap: "square" } };
    const tick = { show: true, length: 24, lineStyle: { color: "#000", width: 6 } };
    const tickLabel = { color: "#000", fontSize: 33, fontWeight: "bold", fontFamily: SANS };
    grid.push({ left: p.left, top: p.top, width: p.width, height: p.height, show: false });
    xAxis.push({
      gridIndex, type: "value", min: 0, max: p.width, axisLine, splitLine: { show: false },
      axisTick: { ...tick, customValues: p.slots },
      axisLabel: { ...tickLabel, fontSize: 34, margin: 30, customValues: p.slots, formatter: (v) => (p.slots.indexOf(v) % 2 === 0 ? "R" : "W") },
    });
    const leftIdx = yAxis.length;
    yAxis.push({
      gridIndex, type: "value", position: "left", min: 0, max: p.lMax, interval: p.lInt, axisLine, axisTick: tick, splitLine: { show: false },
      axisLabel: { ...tickLabel, margin: 30, formatter: (v) => Number(v).toFixed(p.lDec) },
      name: "Relative expression level", nameLocation: "middle", nameRotate: 90, nameGap: p.tGap,
      nameTextStyle: { fontSize: 31, fontFamily: SANS, color: "#000" },
    });
    const rightIdx = yAxis.length;
    yAxis.push({
      gridIndex, type: "value", position: "right", min: 0, max: p.rMax, interval: p.rInt, axisLine, axisTick: tick, splitLine: { show: false },
      axisLabel: { ...tickLabel, margin: 30 },
      name: "TP10M", nameLocation: "middle", nameRotate: -90, nameGap: p.rGap,
      nameTextStyle: { fontSize: 31, fontFamily: SANS, color: "#000", fontWeight: "bold" },
    });
    const xi = xAxis.length - 1;
    const barData: any[] = [];
    p.bars.forEach(([a, b, vals, color]) => {
      barData.push({ value: [p.slots[a], vals[0]], itemStyle: { color: "rgba(0,0,0,0)", borderColor: color, borderWidth: 6 } });
      barData.push({ value: [p.slots[b], vals[1]], itemStyle: { color: "rgba(0,0,0,0)", borderColor: color, borderWidth: 6 } });
    });
    series.push({ type: "bar", xAxisIndex: xi, yAxisIndex: rightIdx, barWidth: p.barW, data: barData, silent: true, z: 3 });
    p.lines.forEach(([a, b, rows, color, kind]) => {
      const errData = rows.map((r, i) => [p.slots[i === 0 ? a : b], r[1], r[2]]);
      series.push({
        type: "custom", coordinateSystem: "cartesian2d", xAxisIndex: xi, yAxisIndex: leftIdx, silent: true, z: 4, encode: { x: 0, y: [1, 2] }, data: errData,
        renderItem: (q, api) => {
          const lo = api.coord([api.value(0), api.value(1)]);
          const hi = api.coord([api.value(0), api.value(2)]);
          const s = { stroke: color, lineWidth: 4, fill: "none" };
          return { type: "group", children: [
            { type: "line", shape: { x1: lo[0], y1: lo[1], x2: hi[0], y2: hi[1] }, style: s },
            { type: "line", shape: { x1: lo[0] - 12, y1: lo[1], x2: lo[0] + 12, y2: lo[1] }, style: s },
            { type: "line", shape: { x1: hi[0] - 12, y1: hi[1], x2: hi[0] + 12, y2: hi[1] }, style: s },
          ] };
        },
      });
      const sym = kind === "circle" ? "circle" : "triangle";
      series.push({
        type: "line", xAxisIndex: xi, yAxisIndex: leftIdx, silent: true, z: 5,
        data: rows.map((r, i) => [p.slots[i === 0 ? a : b], r[0]]),
        symbol: sym, symbolSize: kind === "circle" ? 24 : kind === "open" ? 22 : 28, symbolRotate: kind === "down" ? 180 : 0, showSymbol: true,
        lineStyle: { color, width: 6 },
        itemStyle: kind === "open" ? { color: "#fff", borderColor: color, borderWidth: 5 } : { color },
      });
    });
  });

  return { animation: false, backgroundColor: "#ffffff", grid, xAxis, yAxis, series, graphic: { elements: buildGraphic() } };
}

export default function App() {
  const ref = useRef<HTMLDivElement>(null);
  useEffect(() => {
    const chart = echarts.init(ref.current!, undefined, { renderer: "svg", width: 2838, height: 3653 });
    chart.setOption(buildOption() as any);
    return () => chart.dispose();
  }, []);
  return <div ref={ref} style={{ position: "absolute", left: 0, top: 0, width: 2838, height: 3653 }} />;
}
